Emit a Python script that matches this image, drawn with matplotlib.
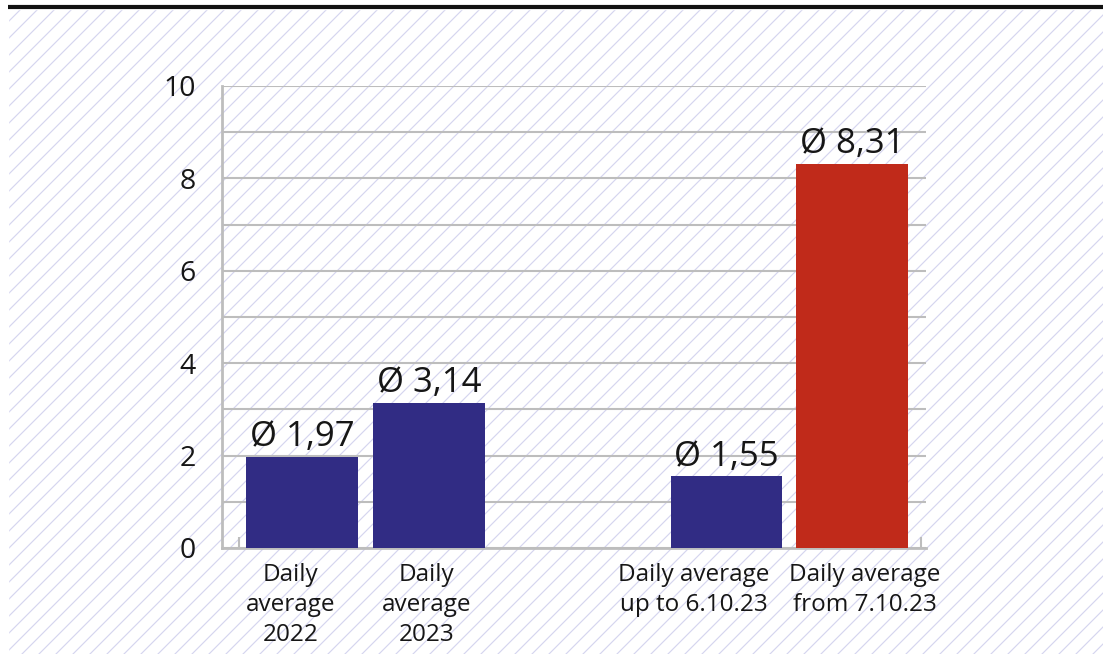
import matplotlib
matplotlib.use('Agg')
import matplotlib.pyplot as plt
import numpy as np

# data
categories = ['Daily\naverage\n2022', 'Daily\naverage\n2023',
              'Daily average\nup to 6.10.23', 'Daily average\nfrom 7.10.23']
values = [1.97, 3.14, 1.55, 8.31]
bar_labels = ['Ø 1,97', 'Ø 3,14', 'Ø 1,55', 'Ø 8,31']
positions = [0, 1, 3.34, 4.33]
label_positions = [-0.09, 0.98, 3.08, 4.43]
colors = ['#312c84', '#312c84', '#312c84', '#c02a1a']

plt.rcParams['font.family'] = ['Open Sans', 'DejaVu Sans']

fig = plt.figure(figsize=(11.03, 6.54), dpi=100)

# background: diagonal hatch and top rule
bg = fig.add_axes([0, 0, 1, 1], zorder=0)
bg.set_xlim(0, 1103)
bg.set_ylim(654, 0)
bg.axis('off')
step = 17
for x0 in np.arange(8 - 700, 1103 + 700, step):
    bg.plot([x0, x0 + 644], [654, 10], color='#d6d6ef', lw=0.85)
bg.fill_between([0, 8], 0, 654, color='white', zorder=2)
bg.fill_between([0, 1103], 0, 9, color='white', zorder=2)
bg.plot([8, 1103], [7, 7], color='#111111', lw=3, solid_capstyle='butt', zorder=3)

# chart
ax = fig.add_axes([222 / 1103, 1 - 548 / 654, (926 - 222) / 1103, (548 - 86) / 654], zorder=1)
ax.patch.set_alpha(0)
ax.bar(positions, values, width=0.88, color=colors, zorder=3)

for p, v, lab in zip(positions, values, bar_labels):
    ax.annotate(lab, (p, v), xytext=(0, 2), textcoords='offset points',
                ha='center', va='bottom', fontsize=25, color='#161616')

ax.set_xlim(-0.63, 4.91)
ax.set_ylim(0, 10)
ax.set_yticks(np.arange(0, 11, 2))
ax.set_yticks(np.arange(1, 10, 2), minor=True)
ax.grid(axis='y', which='both', color='#bdbdbd', lw=1.5, zorder=1)
ax.tick_params(axis='y', which='both', length=0, pad=19, labelsize=20.5, labelcolor='#161616')

# category labels
ax.set_xticks([])
for p, lab in zip(label_positions, categories):
    ax.text(p, -0.032, lab, transform=ax.get_xaxis_transform(), ha='center', va='top',
            fontsize=17.5, color='#161616', linespacing=1.33)
ax.set_xticks([-0.5, 4.87], minor=True)
ax.tick_params(axis='x', which='minor', direction='in', length=8, color='#bdbdbd', width=1.5)

for s in ['top', 'right']:
    ax.spines[s].set_visible(False)
for s in ['left', 'bottom']:
    ax.spines[s].set_color('#bdbdbd')
    ax.spines[s].set_linewidth(2)

fig.savefig('out.png', dpi=100)
